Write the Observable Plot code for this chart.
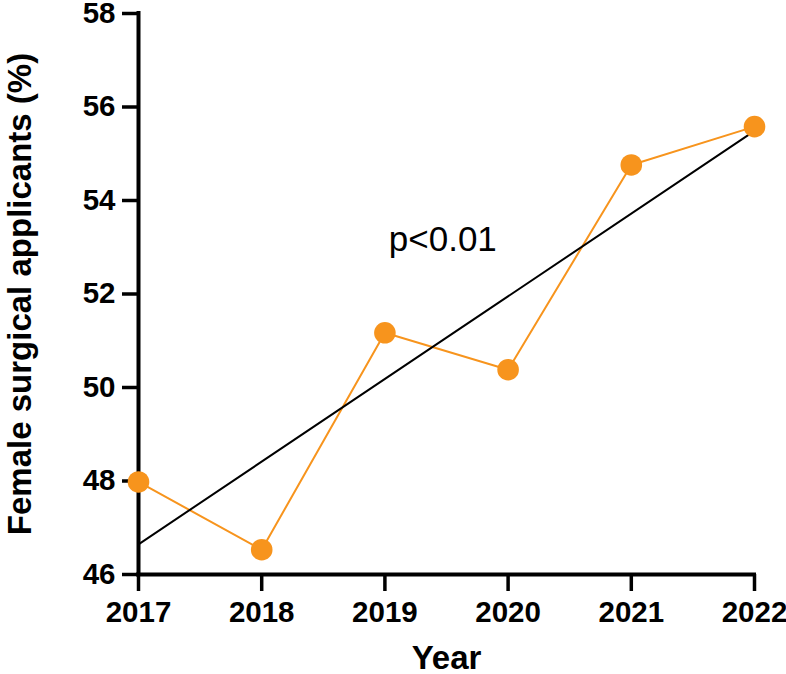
<!DOCTYPE html>
<html>
<head>
<meta charset="utf-8">
<script src="https://cdn.jsdelivr.net/npm/d3@7"></script>
<script src="https://cdn.jsdelivr.net/npm/@observablehq/plot@0.6"></script>
<style>
  html, body { margin: 0; padding: 0; background: #fff; }
  #chart svg { display: block; overflow: visible; }
</style>
</head>
<body>
<div id="chart"></div>
<script>
const years = [2017, 2018, 2019, 2020, 2021, 2022];
const femalePct = [47.98, 46.53, 51.17, 50.38, 54.76, 55.58];
const yTicks = [46, 48, 50, 52, 54, 56, 58];
const xTicks = years;
const annotationText = "p<0.01";
const annotationPos = {x: 2019.47, y: 53.15};

const data = years.map((year, i) => ({year, value: femalePct[i]}));
const font = "'Liberation Sans', Arial, Helvetica, sans-serif";
const orange = "#F7941D";

const chart = Plot.plot({
  width: 786,
  height: 674,
  marginLeft: 138,
  marginRight: 32,
  marginTop: 13,
  marginBottom: 100,
  style: {fontFamily: font, color: "black", background: "white"},
  x: {domain: [2017, 2022], label: null},
  y: {domain: [46, 58], label: null},
  marks: [
    Plot.axisY({ticks: yTicks, tickSize: 16, tickPadding: 7, fontSize: 29.5, fontWeight: "bold", strokeWidth: 3.5, label: null}),
    Plot.axisX({ticks: xTicks, tickFormat: d => String(d), tickSize: 17, tickPadding: 10, fontSize: 29.5, fontWeight: "bold", strokeWidth: 3.5, label: null}),
    Plot.ruleX([2017], {stroke: "black", strokeWidth: 4, strokeLinecap: "square"}),
    Plot.ruleY([46], {stroke: "black", strokeWidth: 4, strokeLinecap: "square"}),
    Plot.line(data, {x: "year", y: "value", stroke: orange, strokeWidth: 2}),
    Plot.linearRegressionY(data, {x: "year", y: "value", stroke: "black", strokeWidth: 2, ci: 0}),
    Plot.dot(data, {x: "year", y: "value", r: 10.8, fill: orange, stroke: "none"}),
    Plot.text([annotationText], {x: annotationPos.x, y: annotationPos.y, text: d => d, fontSize: 35, fill: "black", lineAnchor: "middle", textAnchor: "middle"}),
    Plot.text(["Female surgical applicants (%)"], {frameAnchor: "left", text: d => d, rotate: -90, dx: -118, fontSize: 33, fontWeight: "bold", fill: "black", textAnchor: "middle", lineAnchor: "middle"}),
    Plot.text(["Year"], {frameAnchor: "bottom", text: d => d, dy: 84, fontSize: 33, fontWeight: "bold", fill: "black", textAnchor: "middle", lineAnchor: "middle"})
  ]
});
document.getElementById("chart").appendChild(chart);
</script>
</body>
</html>
